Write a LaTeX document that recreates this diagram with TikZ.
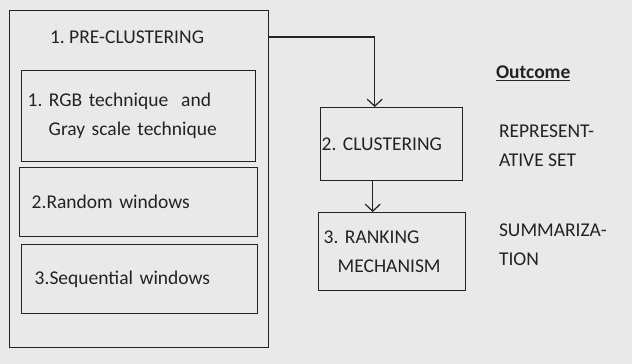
\documentclass[tikz,border=0pt]{standalone}
\usepackage{fontspec}
\setmainfont{Carlito}
\frenchspacing
\usetikzlibrary{arrows.meta}
\definecolor{paper}{RGB}{233,233,233}
\definecolor{ink}{RGB}{35,35,35}
\begin{document}
\begin{tikzpicture}[x=1pt, y=-1pt, line width=1.4pt, draw=ink,
  box node/.style={rectangle, draw=ink, inner sep=0pt, align=left, anchor=north west},
  step arrow/.style={-{Straight Barb[length=7pt,width=15pt,line width=1.2pt]}, ink}]
\useasboundingbox[fill=paper] (0,0) rectangle (632,364);
\begin{scope}[every node/.style={font=\fontsize{19.5}{29}\selectfont, text=ink}]
% pre-clustering frame with its three techniques
\node[box node, minimum width=259pt, minimum height=337pt] (pre) at (9,10) {};
\node[anchor=west] (pretitle) at (46,37) {1. PRE-CLUSTERING};
\node[box node, minimum width=234pt, minimum height=91pt, text width=222pt, inner xsep=6pt] (rgb) at (21,70) {1. RGB technique\,\, and\\\hspace*{21pt}Gray scale technique};
\node[box node, minimum width=238pt, minimum height=69pt, text width=214pt, inner xsep=12pt] (rand) at (19,167) {2.Random windows};
\node[box node, minimum width=236pt, minimum height=69pt, text width=210pt, inner xsep=13pt] (seq) at (21,244) {3.Sequential windows};
% main stages
\node[box node, minimum width=142pt, minimum height=73pt, text width=140pt, inner xsep=1pt] (clus) at (320,107) {2. CLUSTERING};
\node[box node, minimum width=147pt, minimum height=78pt, text width=137pt, inner xsep=5pt] (rank) at (318,212) {3. RANKING\\\hspace*{14pt}MECHANISM};
% outcome column
\node[anchor=west, font=\fontsize{19.5}{29}\selectfont\bfseries] (outcome) at (492,73) {\underline{Outcome}};
\node[anchor=west, align=left] (repset) at (495,146) {REPRESENT-\\ATIVE SET};
\node[anchor=west, align=left] (summ) at (495,245) {SUMMARIZA-\\TION};
\end{scope}
\begin{scope}
\draw[step arrow] (pre.east |- pretitle) -| ([xshift=-17pt]clus.north);
\draw[step arrow] ([xshift=-19pt]clus.south) -- ([xshift=-19pt]clus.south |- rank.north);
\end{scope}
\end{tikzpicture}
\end{document}
